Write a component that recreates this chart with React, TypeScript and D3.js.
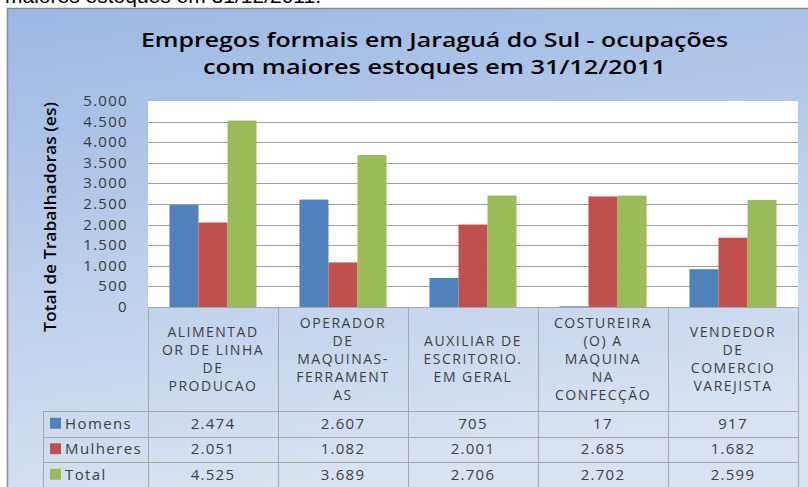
import { useEffect, useRef } from 'react';
import * as d3 from 'd3';

const WIDTH = 808;
const HEIGHT = 487;
const PLOT = { left: 148, right: 798, top: 101, bottom: 307 };

const categories = [
  ['ALIMENTAD', 'OR DE LINHA', 'DE', 'PRODUCAO'],
  ['OPERADOR', 'DE', 'MAQUINAS-', 'FERRAMENT', 'AS'],
  ['AUXILIAR DE', 'ESCRITORIO.', 'EM GERAL'],
  ['COSTUREIRA', '(O) A', 'MAQUINA', 'NA', 'CONFECÇÃO'],
  ['VENDEDOR', 'DE', 'COMERCIO', 'VAREJISTA'],
];
const seriesNames = ['Homens', 'Mulheres', 'Total'];
const seriesColors = ['#4f81bd', '#c0504d', '#9bbb59'];
const homens = [2474, 2607, 705, 17, 917];
const mulheres = [2051, 1082, 2001, 2685, 1682];
const total = [4525, 3689, 2706, 2702, 2599];
const yTicks = [0, 500, 1000, 1500, 2000, 2500, 3000, 3500, 4000, 4500, 5000];

const fmt = (v: number) => d3.format(',')(v).replace(/,/g, '.');

export default function App() {
  const svgRef = useRef<SVGSVGElement>(null);

  useEffect(() => {
    const svg = d3.select(svgRef.current);
    svg.selectAll('*').remove();
    const series = [homens, mulheres, total];

    const defs = svg.append('defs');
    const grad = defs.append('linearGradient').attr('id', 'bg').attr('x1', 0).attr('y1', 0).attr('x2', 0.25).attr('y2', 1);
    grad.append('stop').attr('offset', '0%').attr('stop-color', '#9cb8e3');
    grad.append('stop').attr('offset', '100%').attr('stop-color', '#d8e2f2');

    svg.append('rect').attr('width', WIDTH).attr('height', HEIGHT).attr('fill', '#fff');

    // text line above the chart, cut by the crop
    svg.append('text')
      .attr('x', 5).attr('y', 3)
      .style('font-family', 'Liberation Sans, Arial, sans-serif').style('font-size', '21px')
      .attr('fill', '#000')
      .text('maiores estoques em 31/12/2011.');

    // chart frame
    svg.append('rect')
      .attr('x', 7.5).attr('y', 8.5).attr('width', WIDTH).attr('height', HEIGHT)
      .attr('fill', 'url(#bg)').attr('stroke', '#8c8c8c').attr('stroke-width', 1.5);

    // title
    const title = ['Empregos formais em Jaraguá do Sul - ocupações', 'com maiores estoques em 31/12/2011'];
    const titleW = [587, 463];
    title.forEach((t, i) => {
      svg.append('text')
        .attr('x', 434.5).attr('y', 47 + i * 26.5)
        .attr('text-anchor', 'middle')
        .attr('textLength', titleW[i]).attr('lengthAdjust', 'spacingAndGlyphs')
        .style('font-family', 'Open Sans, sans-serif').style('font-size', '20px').style('font-weight', 600)
        .attr('fill', '#000')
        .text(t);
    });

    const x0 = d3.scaleBand<number>().domain(d3.range(categories.length)).range([PLOT.left, PLOT.right]);
    const x1 = d3.scaleBand<number>().domain(d3.range(seriesNames.length)).range([0, x0.bandwidth()]).paddingOuter(0.74).paddingInner(0);
    const y = d3.scaleLinear().domain([0, 5000]).range([PLOT.bottom, PLOT.top]);

    // plot area
    svg.append('rect')
      .attr('x', PLOT.left).attr('y', PLOT.top)
      .attr('width', PLOT.right - PLOT.left).attr('height', PLOT.bottom - PLOT.top)
      .attr('fill', '#fff');

    svg.append('g').selectAll('line').data(yTicks.filter((t) => t > 0 && t < 5000)).join('line')
      .attr('x1', PLOT.left).attr('x2', PLOT.right)
      .attr('y1', (d) => Math.round(y(d)) + 0.5).attr('y2', (d) => Math.round(y(d)) + 0.5)
      .attr('stroke', '#a0a0a0').attr('stroke-width', 1);

    // y tick labels
    svg.append('g').selectAll('text').data(yTicks).join('text')
      .attr('x', 128).attr('y', (d) => y(d) + 5)
      .attr('text-anchor', 'end')
      .style('font-family', 'Open Sans, sans-serif').style('font-size', '15px').style('letter-spacing', '1.3px')
      .attr('fill', '#3a3a3a')
      .text((d) => fmt(d));

    // y axis title
    svg.append('text')
      .attr('transform', `translate(56,217) rotate(-90)`)
      .attr('text-anchor', 'middle')
      .attr('textLength', 230).attr('lengthAdjust', 'spacingAndGlyphs')
      .style('font-family', 'Open Sans, sans-serif').style('font-size', '17px').style('font-weight', 600)
      .attr('fill', '#000')
      .text('Total de Trabalhadoras (es)');

    // bars
    series.forEach((vals, si) => {
      svg.append('g').selectAll('rect').data(vals).join('rect')
        .attr('x', (_, i) => (x0(i) ?? 0) + (x1(si) ?? 0))
        .attr('y', (d) => y(d))
        .attr('width', x1.bandwidth())
        .attr('height', (d) => y(0) - y(d))
        .attr('fill', seriesColors[si]);
    });

    // data table
    const rowTop = 411;
    const rowH = 25.5;
    const tableBottom = rowTop + rowH * 3;
    const lineColor = '#a6a6a6';
    const tg = svg.append('g');

    // vertical lines
    const vx = d3.range(categories.length + 1).map((i) => (i < categories.length ? (x0(i) ?? 0) : PLOT.right));
    tg.selectAll('line.v').data(vx).join('line')
      .attr('x1', (d) => Math.round(d) + 0.5).attr('x2', (d) => Math.round(d) + 0.5)
      .attr('y1', PLOT.bottom).attr('y2', tableBottom + 2)
      .attr('stroke', lineColor);
    tg.append('line')
      .attr('x1', 43.5).attr('x2', 43.5).attr('y1', rowTop).attr('y2', tableBottom + 2)
      .attr('stroke', lineColor);
    // horizontal lines
    tg.append('line')
      .attr('x1', PLOT.left).attr('x2', PLOT.right).attr('y1', PLOT.bottom + 0.5).attr('y2', PLOT.bottom + 0.5)
      .attr('stroke', lineColor);
    d3.range(3).forEach((r) => {
      const yy = Math.round(rowTop + r * rowH) + 0.5;
      tg.append('line').attr('x1', 43).attr('x2', PLOT.right).attr('y1', yy).attr('y2', yy).attr('stroke', lineColor);
    });

    // category headers
    categories.forEach((lines, ci) => {
      const cx = (x0(ci) ?? 0) + x0.bandwidth() / 2;
      const mid = (PLOT.bottom + rowTop) / 2;
      lines.forEach((ln, li) => {
        tg.append('text')
          .attr('x', cx).attr('y', mid + (li - (lines.length - 1) / 2) * 18 + 5)
          .attr('text-anchor', 'middle')
          .style('font-family', 'Open Sans, sans-serif').style('font-size', '14px').style('letter-spacing', '1.5px')
          .attr('fill', '#404040')
          .text(ln);
      });
    });

    // rows
    series.forEach((vals, si) => {
      const yy = rowTop + si * rowH + rowH / 2 + 5;
      tg.append('rect')
        .attr('x', 50).attr('y', yy - 11).attr('width', 11).attr('height', 11)
        .attr('fill', seriesColors[si]);
      tg.append('text')
        .attr('x', 65).attr('y', yy)
        .style('font-family', 'Open Sans, sans-serif').style('font-size', '15px').style('letter-spacing', '1.4px')
        .attr('fill', '#404040')
        .text(seriesNames[si]);
      vals.forEach((v, ci) => {
        tg.append('text')
          .attr('x', (x0(ci) ?? 0) + x0.bandwidth() / 2).attr('y', yy)
          .attr('text-anchor', 'middle')
          .style('font-family', 'Open Sans, sans-serif').style('font-size', '15px').style('letter-spacing', '1.3px')
          .attr('fill', '#404040')
          .text(fmt(v));
      });
    });
  }, []);

  return (
    <svg
      ref={svgRef}
      width={WIDTH}
      height={HEIGHT}
      style={{ position: 'absolute', left: 0, top: 0, display: 'block' }}
    />
  );
}
